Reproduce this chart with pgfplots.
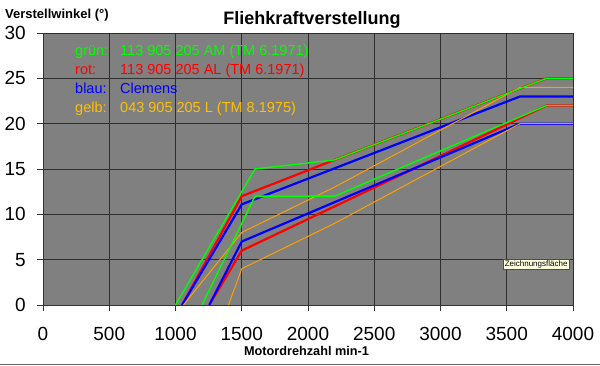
\documentclass[border=0pt]{standalone}
\usepackage{pgfplots}
\pgfplotsset{compat=1.18}
\usepackage{fontspec}
\setmainfont{Liberation Sans}
\definecolor{plotbg}{HTML}{808080}
\definecolor{gridc}{HTML}{2E2E2E}
\definecolor{cgreen}{HTML}{00FF00}
\definecolor{cred}{HTML}{FF0000}
\definecolor{cblue}{HTML}{0000FF}
\definecolor{corange}{HTML}{FF9F00}
\definecolor{cgelb}{HTML}{FFC000}
\definecolor{tipbg}{HTML}{FFFFE1}
\begin{document}
\begin{tikzpicture}[x=1pt,y=1pt]
\begin{axis}[at={(0,0)}, anchor=south west, scale only axis,
  width=530pt, height=272pt,
  xmin=0, xmax=4000, ymin=0, ymax=30,
  xtick={0,500,...,4000}, ytick={0,5,...,30},
  axis x line*=bottom, axis y line*=left,
  axis line style={color=black!80, line width=0.6pt},
  tick align=outside, major tick length=6pt,
  tick style={color=black!80, line width=0.6pt},
  grid=major, major grid style={color=gridc, line width=0.9pt},
  axis background/.style={fill=plotbg},
  /pgf/number format/1000 sep={},
  /pgf/number format/assume math mode=true,
  ticklabel style={font=\fontsize{19}{19}\selectfont, inner sep=0pt},
  yticklabel style={xshift=-11pt},
  xticklabel style={yshift=-16pt},
  every axis plot/.append style={line join=round},
]
\addplot[cred, line width=2.2pt] coordinates {(1050,0) (1500,12) (2200,16) (3800,25) (4000,25)};
\addplot[cred, line width=2.2pt] coordinates {(1255,0) (1500,6) (3800,22) (4000,22)};
\addplot[cblue, line width=2.2pt] coordinates {(1050,0) (1500,11.1) (3600,23) (4000,23)};
\addplot[cblue, line width=2.2pt] coordinates {(1255,0) (1500,7) (3600,20) (4000,20)};
\addplot[corange, line width=1pt] coordinates {(1060,0) (1500,8) (2200,13) (3600,24) (4000,24)};
\addplot[corange, line width=1pt] coordinates {(1400,0) (1500,4) (2200,9) (3600,20) (4000,20)};
\addplot[cgreen, line width=1.4pt] coordinates {(1000,0) (1500,12.5) (1600,15) (2200,16) (3800,25) (4000,25)};
\addplot[cgreen, line width=1.4pt] coordinates {(1200,0) (1600,12) (2200,12) (3800,22) (4000,22)};
\end{axis}
% legend text inside the plot
\begin{scope}[every node/.style={anchor=base west, inner sep=0pt, font=\fontsize{14.5}{14.5}\selectfont}]
\node[text=cgreen] at (32,249.3) {grün:};
\node[text=cgreen] at (77,249.3) {113 905 205 AM (TM 6.1971)};
\node[text=cred] at (32,230.7) {rot:};
\node[text=cred] at (77,230.7) {113 905 205 AL (TM 6.1971)};
\node[text=cblue] at (32,211.7) {blau:};
\node[text=cblue] at (77,211.7) {Clemens};
\node[text=cgelb] at (32,192.7) {gelb:};
\node[text=cgelb] at (77,192.7) {043 905 205 L (TM 8.1975)};
\end{scope}
% titles
\node[anchor=base, inner sep=0pt, font=\bfseries\fontsize{18}{18}\selectfont] at (269,280) {Fliehkraftverstellung};
\node[anchor=base west, inner sep=0pt, font=\bfseries\fontsize{13}{13}\selectfont] at (-38,286) {Verstellwinkel (°)};
\node[anchor=base, inner sep=0pt, font=\bfseries\fontsize{12.7}{12.7}\selectfont] at (263.5,-50.7) {Motordrehzahl min-1};
% tooltip
\node[anchor=north west, draw=black!70, line width=0.5pt, fill=tipbg, inner sep=1.5pt, font=\fontsize{8}{8}\selectfont] at (460,46) {Zeichnungsfläche};
% bottom frame line
\draw[color=black!60, line width=1pt] (-43,-59.3) -- (557,-59.3);
\pgfresetboundingbox
\path (-43,-61) rectangle (557,305);
\end{tikzpicture}
\end{document}
